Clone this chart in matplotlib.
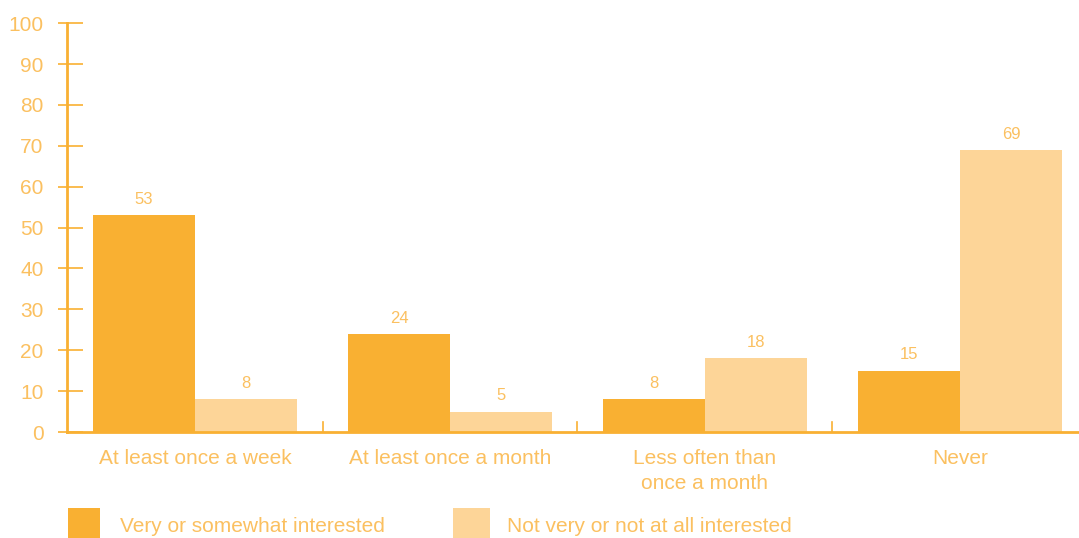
import matplotlib.pyplot as plt
from matplotlib.patches import Rectangle
import numpy as np

# survey results, percent of respondents
categories = ["At least once a week", "At least once a month",
              "Less often than\nonce a month", "Never"]
interested = [53, 24, 8, 15]
not_interested = [8, 5, 18, 69]
series_names = ["Very or somewhat interested", "Not very or not at all interested"]

DARK = "#F9B032"
LIGHT = "#FDD598"
TEXT = "#FBC060"

plt.rcParams['font.family'] = ['Liberation Sans', 'DejaVu Sans']

fig = plt.figure(figsize=(10.79, 5.38), dpi=100)
ax = fig.add_axes([0.0621, 0.197, 0.937, 0.760])

x = np.arange(len(categories))
w = 0.4
b1 = ax.bar(x - w / 2, interested, w, color=DARK, linewidth=0)
b2 = ax.bar(x + w / 2, not_interested, w, color=LIGHT, linewidth=0)

for bars, vals in ((b1, interested), (b2, not_interested)):
    for r, v in zip(bars, vals):
        ax.annotate(str(v), (r.get_x() + r.get_width() / 2, v),
                    xytext=(0, 6), textcoords="offset points",
                    ha="center", va="bottom", fontsize=12, color=TEXT)

ax.set_xlim(-0.502, 3.463)
ax.set_ylim(0, 100)

for s in ("top", "right"):
    ax.spines[s].set_visible(False)
for s in ("left", "bottom"):
    ax.spines[s].set_color(DARK)
    ax.spines[s].set_linewidth(2)

yticks = np.arange(0, 101, 10)
ax.set_yticks(yticks)
ax.tick_params(axis="y", length=0, labelcolor=TEXT, labelsize=15, pad=17)
# tick marks cross the axis, longer on the inside
ax_px = 0.937 * 1079
ax.hlines(yticks, -9 / ax_px, 16 / ax_px, transform=ax.get_yaxis_transform(),
          color=DARK, lw=1.2, clip_on=False)

ax.set_xticks(x)
ax.set_xticklabels(categories, fontsize=15, color=TEXT, linespacing=1.45)
ax.tick_params(axis="x", length=0, pad=12)

# small separators between groups
for sep in x[:-1] + 0.5:
    ax.plot([sep, sep], [0, 2.4], color=DARK, lw=1.2, clip_on=False)

# legend drawn in figure coordinates
fig.patches.append(Rectangle((68 / 1079, 0), 32 / 1079, 30 / 538,
                             transform=fig.transFigure, color=DARK, lw=0))
fig.patches.append(Rectangle((453 / 1079, 0), 37 / 1079, 30 / 538,
                             transform=fig.transFigure, color=LIGHT, lw=0))
fig.text(120 / 1079, 1 - 526 / 538, series_names[0], fontsize=15,
         color=TEXT, va="center")
fig.text(507 / 1079, 1 - 526 / 538, series_names[1], fontsize=15,
         color=TEXT, va="center")

fig.savefig("out.png", dpi=100)
